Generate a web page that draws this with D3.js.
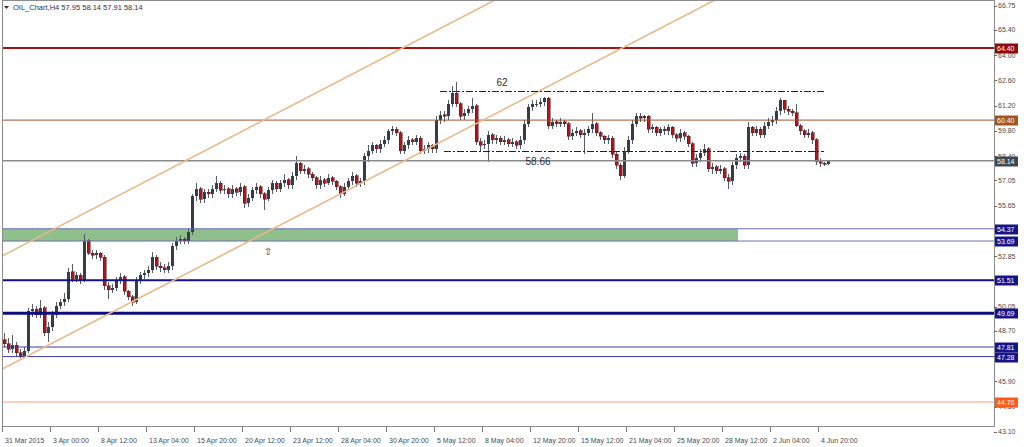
<!DOCTYPE html>
<html><head><meta charset="utf-8">
<script src="https://cdn.jsdelivr.net/npm/d3@7"></script>
<style>
body{margin:0;background:#fff;overflow:hidden}
svg{display:block}
text{font-family:"Liberation Sans",Arial,sans-serif}
</style>
</head><body>
<svg id="c" width="1024" height="447"></svg>
<script>
// ---- data ----
const opens=[48.2,48.0,47.7,47.9,47.5,47.3,47.6,49.8,49.9,49.6,50.0,48.6,48.9,49.6,50.1,50.3,50.5,52.0,51.6,51.8,
51.5,53.7,53.0,52.9,53.0,52.8,51.2,51.0,51.1,51.5,51.7,50.9,50.6,50.3,51.5,51.8,51.9,52.1,52.8,52.3,
52.2,52.1,52.3,53.4,53.7,53.8,53.7,54.2,56.2,56.6,56.0,56.4,56.3,56.6,56.9,56.5,56.6,56.3,56.6,56.4,
56.7,55.8,56.1,56.5,56.7,56.3,56.0,56.5,56.9,56.6,56.9,57.1,56.8,57.3,58.0,57.6,57.7,57.4,57.2,56.8,
57.1,56.9,57.2,57.0,56.7,56.3,56.7,57.0,57.3,56.9,57.0,58.4,58.7,59.0,58.8,59.1,59.3,59.8,59.9,59.7,
58.7,59.0,59.3,59.2,59.4,58.7,58.8,59.0,58.8,60.4,60.7,60.6,61.3,61.9,61.3,60.6,60.8,61.0,61.2,59.2,
59.0,59.1,59.6,59.3,59.4,59.2,59.3,59.1,59.2,59.0,59.3,60.2,61.1,61.3,61.3,61.4,61.6,60.1,60.3,60.2,
60.3,60.2,59.5,59.7,59.8,59.6,59.7,59.9,60.2,59.7,59.5,59.3,59.4,58.5,57.9,57.3,58.7,59.3,60.2,60.6,
60.5,60.6,59.9,60.0,59.7,59.9,59.8,60.0,59.6,59.4,59.7,59.5,59.1,58.0,58.3,58.6,58.8,57.7,57.8,57.6,
57.7,57.2,57.0,57.9,58.3,58.4,57.9,60.0,59.7,59.9,59.6,60.1,60.3,60.4,60.9,61.5,61.0,60.9,60.8,60.1,
59.8,59.6,59.7,59.3,58.1,58.0,57.95];
const highs=[48.6,48.3,48.5,48.1,47.7,47.8,50.0,50.2,50.1,50.4,50.1,49.2,49.8,50.3,50.5,50.8,52.2,52.4,52.0,51.9,
54.1,53.8,53.2,53.2,53.1,52.9,51.4,51.3,51.7,51.9,51.8,51.0,50.7,51.7,52.0,52.1,52.3,53.1,52.9,52.5,
52.4,52.5,53.6,53.9,54.0,53.9,54.4,56.3,56.9,56.7,56.6,56.6,56.8,57.3,57.0,56.8,56.7,56.8,56.7,56.9,
56.8,56.3,56.7,56.9,56.8,56.4,56.7,57.1,57.0,57.1,57.4,57.2,57.5,58.4,58.1,57.9,57.8,57.5,57.3,57.3,
57.2,57.4,57.3,57.1,56.8,56.9,57.2,57.5,57.4,57.2,58.6,59.0,59.2,59.1,59.3,59.5,59.9,60.1,60.0,59.8,
59.2,59.5,59.4,59.6,59.5,59.0,59.2,59.1,60.6,60.9,60.9,61.5,62.3,62.5,61.4,61.0,61.2,61.6,61.3,59.4,
59.3,59.8,59.7,59.6,59.5,59.5,59.4,59.4,59.3,59.5,60.4,61.3,61.5,61.5,61.6,61.7,61.7,60.5,60.4,60.5,
60.4,60.3,59.9,60.0,59.9,59.9,60.1,60.8,60.3,59.8,59.6,59.6,59.5,58.7,58.0,58.9,59.5,60.4,60.8,60.8,
60.7,60.7,60.2,60.1,60.0,60.1,60.2,60.1,59.7,59.9,59.8,59.6,59.2,58.5,58.8,59.1,58.9,58.0,57.9,57.9,
57.8,57.4,58.1,58.5,58.6,58.5,60.3,60.1,60.1,60.0,60.3,60.5,60.6,61.1,61.6,61.5,61.2,61.0,61.3,60.2,
59.9,59.9,59.8,59.4,58.3,58.1,58.14];
const lows=[47.8,47.5,47.5,47.3,47.2,47.2,47.5,49.5,49.4,49.4,48.4,48.1,48.7,49.4,49.9,50.1,50.3,51.4,51.4,51.3,
51.4,52.9,52.7,52.7,52.6,51.0,50.5,50.8,50.9,51.3,50.7,50.4,50.1,50.2,51.3,51.6,51.7,51.9,52.1,52.0,
51.9,51.9,52.1,53.2,53.5,53.5,53.5,54.0,55.9,55.8,55.8,56.1,56.1,56.4,56.3,56.3,56.1,56.1,56.2,56.2,
55.5,55.6,55.9,56.3,56.1,55.4,55.9,56.3,56.4,56.4,56.7,56.6,56.6,57.1,57.4,57.4,57.2,57.0,56.6,56.6,
56.7,56.8,56.8,56.5,56.1,56.2,56.5,56.8,56.7,56.7,56.8,58.1,58.5,58.6,58.6,58.9,59.1,59.6,59.5,58.5,
58.5,58.8,59.0,59.0,58.5,58.5,58.6,58.6,58.6,60.2,60.3,60.4,61.1,61.1,60.4,60.4,60.6,60.8,59.0,58.7,
58.8,58.1,59.1,59.1,59.0,59.0,58.9,58.9,58.8,58.8,59.1,60.0,60.9,61.1,61.1,61.2,59.9,59.9,60.0,60.0,
60.0,59.3,59.3,59.5,59.4,58.5,59.5,59.7,59.5,59.3,59.1,59.1,58.3,57.7,57.1,57.2,58.5,59.1,60.0,60.3,
60.3,59.7,59.7,59.5,59.5,59.6,59.6,59.4,59.2,59.2,59.3,58.9,57.8,57.8,58.1,58.4,57.5,57.4,57.4,57.4,
57.0,56.6,56.8,57.7,58.1,57.7,57.7,59.5,59.5,59.4,59.4,59.9,60.1,60.2,60.7,60.8,60.7,60.6,60.0,59.6,
59.4,59.4,59.1,57.9,57.8,57.85,57.91];
const closes=[48.0,47.7,47.9,47.5,47.3,47.6,49.8,49.9,49.6,50.0,48.6,48.9,49.6,50.1,50.3,50.5,52.0,51.6,51.8,51.5,
53.7,53.0,52.9,53.0,52.8,51.2,51.0,51.1,51.5,51.7,50.9,50.6,50.3,51.5,51.8,51.9,52.1,52.8,52.3,52.2,
52.1,52.3,53.4,53.7,53.8,53.7,54.2,56.2,56.6,56.0,56.4,56.3,56.6,56.9,56.5,56.6,56.3,56.6,56.4,56.7,
55.8,56.1,56.5,56.7,56.3,56.0,56.5,56.9,56.6,56.9,57.1,56.8,57.3,58.0,57.6,57.7,57.4,57.2,56.8,57.1,
56.9,57.2,57.0,56.7,56.3,56.7,57.0,57.3,56.9,57.0,58.4,58.7,59.0,58.8,59.1,59.3,59.8,59.9,59.7,58.7,
59.0,59.3,59.2,59.4,58.7,58.8,59.0,58.8,60.4,60.7,60.6,61.3,61.9,61.3,60.6,60.8,61.0,61.2,59.2,59.0,
59.1,59.6,59.3,59.4,59.2,59.3,59.1,59.2,59.0,59.3,60.2,61.1,61.3,61.3,61.4,61.6,60.1,60.3,60.2,60.3,
60.2,59.5,59.7,59.8,59.6,59.7,59.9,60.2,59.7,59.5,59.3,59.4,58.5,57.9,57.3,58.7,59.3,60.2,60.6,60.5,
60.6,59.9,60.0,59.7,59.9,59.8,60.0,59.6,59.4,59.7,59.5,59.1,58.0,58.3,58.6,58.8,57.7,57.8,57.6,57.7,
57.2,57.0,57.9,58.3,58.4,57.9,60.0,59.7,59.9,59.6,60.1,60.3,60.4,60.9,61.5,61.0,60.9,60.8,60.1,59.8,
59.6,59.7,59.3,58.1,58.0,57.95,58.14];

const timeLabels=["31 Mar 2015","3 Apr 00:00","8 Apr 12:00","13 Apr 04:00","15 Apr 20:00","20 Apr 12:00",
"23 Apr 12:00","28 Apr 04:00","30 Apr 20:00","5 May 12:00","8 May 04:00","12 May 20:00","15 May 12:00",
"21 May 04:00","25 May 20:00","28 May 12:00","2 Jun 04:00","4 Jun 20:00"];
const timeLabelBars=[0,12,24,36,48,60,72,84,96,108,120,132,144,156,168,180,192,204];
const priceTicks=[66.75,65.40,64.00,62.60,61.20,59.80,58.40,57.05,55.65,54.25,52.85,51.45,50.05,48.70,47.30,45.90,44.50,43.10];
const levelValues=[64.40,60.40,58.14,54.37,53.69,51.51,49.69,47.81,47.28,44.76];
const zoneRange=[53.69,54.37];
const zoneEndBar=183.5;
const channelUpper=[[20,55.22],[100,64.44]];
const channelLower=[[20,48.94],[100,58.13]];
const resistance={value:62.00,from:109,to:205,label:"62",labelBar:124.5};
const support={value:58.66,from:110,to:205,label:"58.66",labelBar:133.5};
const arrowMark={bar:66,price:53.08};
const header="OIL_Chart,H4  57.95 58.14 57.91 58.14";

// ---- layout ----
const W=1024,H=447;
const plot={l:2,r:994,t:0.5,b:426};
const svg=d3.select("#c");
const x=d3.scaleLinear().domain([0,206]).range([4,828]);
const y=d3.scaleLinear().domain([64.40,44.76]).range([48,402]);

svg.append("rect").attr("width",W).attr("height",H).attr("fill","#fff");
svg.append("defs").append("clipPath").attr("id","pc").append("rect")
  .attr("x",plot.l).attr("y",plot.t).attr("width",plot.r-plot.l).attr("height",plot.b-plot.t);
const g=svg.append("g").attr("clip-path","url(#pc)");

// zone
g.append("rect").attr("x",plot.l).attr("y",y(zoneRange[1]))
  .attr("width",x(zoneEndBar)-plot.l).attr("height",y(zoneRange[0])-y(zoneRange[1]))
  .attr("fill","#8fbf8a");

// candles
const bars=closes.map((c,i)=>({i,o:opens[i],h:highs[i],l:lows[i],c}));
const cg=g.append("g").attr("shape-rendering","crispEdges");
cg.selectAll("line.w").data(bars).join("line").attr("class","w")
  .attr("x1",d=>Math.round(x(d.i))+0.5).attr("x2",d=>Math.round(x(d.i))+0.5)
  .attr("y1",d=>y(d.h)).attr("y2",d=>y(d.l)).attr("stroke","#555c63").attr("stroke-width",1);
cg.selectAll("rect.b").data(bars).join("rect").attr("class","b")
  .attr("x",d=>Math.round(x(d.i))-1).attr("width",3)
  .attr("y",d=>y(Math.max(d.o,d.c))).attr("height",d=>Math.max(1,Math.abs(y(d.o)-y(d.c))))
  .attr("fill",d=>d.c>=d.o?"#343d48":"#b3121a")
  .attr("stroke",d=>d.c>=d.o?"none":"#4a1a1a").attr("stroke-width",d=>d.c>=d.o?0:0.5);

// horizontal levels
const levelStyle=[
 {c:"#a31515",w:2},{c:"#a0522d",w:1},{c:"#8a8a8a",w:1.5},{c:"#6d6db8",w:1},{c:"#6d6db8",w:1},
 {c:"#12128a",w:2},{c:"#0e0e80",w:3},{c:"#3a3aa8",w:1},{c:"#3a3aa8",w:1},{c:"#f7a27a",w:1}];
const boxStyle=["#8e0c0c","#a0561f","#3c4853","#15158a","#15158a","#15158a","#15158a","#15158a","#15158a","#ff5a1a"];
g.selectAll("line.lv").data(levelValues).join("line").attr("class","lv")
  .attr("x1",plot.l).attr("x2",plot.r).attr("y1",d=>y(d)).attr("y2",d=>y(d))
  .attr("stroke",(d,i)=>levelStyle[i].c).attr("stroke-width",(d,i)=>levelStyle[i].w);

// channel
function extend(pts){
  const [a,b]=pts; const s=(b[1]-a[1])/(b[0]-a[0]);
  const i0=-5,i1=260;
  return [[i0,a[1]+s*(i0-a[0])],[i1,a[1]+s*(i1-a[0])]];
}
[channelUpper,channelLower].forEach(pts=>{
  const e=extend(pts);
  g.append("line").attr("x1",x(e[0][0])).attr("y1",y(e[0][1])).attr("x2",x(e[1][0])).attr("y2",y(e[1][1]))
   .attr("stroke","#e8b888").attr("stroke-width",1.6);
});

// dash-dot lines and texts
[resistance,support].forEach(r=>{
  g.append("line").attr("x1",x(r.from)).attr("x2",x(r.to)).attr("y1",Math.round(y(r.value))+0.5).attr("y2",Math.round(y(r.value))+0.5)
   .attr("stroke","#222").attr("stroke-width",1).attr("stroke-dasharray","7,2,2,2");
});
g.append("text").attr("x",x(resistance.labelBar)).attr("y",y(resistance.value)-5).attr("text-anchor","middle")
 .attr("font-size",10).attr("fill","#2a2f35").text(resistance.label);
g.append("text").attr("x",x(support.labelBar)).attr("y",y(support.value)+14).attr("text-anchor","middle")
 .attr("font-size",10).attr("fill","#2a2f35").text(support.label);

// arrow mark
g.append("text").attr("x",x(arrowMark.bar)).attr("y",y(arrowMark.price)).attr("text-anchor","middle")
 .attr("dominant-baseline","middle").attr("font-family","DejaVu Sans").attr("font-size",10).attr("fill","#2a3a55").text("⇧");

// frame
svg.append("rect").attr("x",plot.l+0.5).attr("y",plot.t).attr("width",plot.r-plot.l-0.5).attr("height",plot.b-plot.t)
 .attr("fill","none").attr("stroke","#8c8c8c").attr("stroke-width",1).attr("shape-rendering","crispEdges");

// price axis
const ax=svg.append("g");
ax.selectAll("line").data(priceTicks).join("line")
 .attr("x1",plot.r).attr("x2",plot.r+3).attr("y1",d=>Math.round(y(d))+0.5).attr("y2",d=>Math.round(y(d))+0.5)
 .attr("stroke","#666").attr("shape-rendering","crispEdges");
ax.selectAll("text").data(priceTicks).join("text")
 .attr("x",plot.r+4).attr("y",d=>y(d)+2.5).attr("font-size",7).attr("fill","#4a4a4a")
 .text(d=>d3.format(".2f")(d));

// level boxes
const lb=svg.append("g");
lb.selectAll("rect").data(levelValues).join("rect")
 .attr("x",plot.r+1).attr("y",d=>Math.round(y(d))-4.5).attr("width",23).attr("height",10)
 .attr("fill",(d,i)=>boxStyle[i]);
lb.selectAll("text").data(levelValues).join("text")
 .attr("x",plot.r+3).attr("y",d=>Math.round(y(d))+3).attr("font-size",7).attr("fill","#fff")
 .text(d=>d3.format(".2f")(d));

// time axis
const tx=svg.append("g");
tx.selectAll("line").data(timeLabelBars).join("line")
 .attr("x1",d=>Math.round(x(d))-1.5).attr("x2",d=>Math.round(x(d))-1.5).attr("y1",plot.b).attr("y2",plot.b+6)
 .attr("stroke","#777").attr("shape-rendering","crispEdges");
tx.selectAll("text").data(timeLabelBars).join("text")
 .attr("x",d=>Math.round(x(d))+1).attr("y",443).attr("font-size",7).attr("fill","#4a4a4a")
 .text((d,i)=>timeLabels[i]);

// header
svg.append("path").attr("d","M4,6 L9,6 L6.5,9 Z").attr("fill","#333");
svg.append("text").attr("x",13).attr("y",10).attr("font-size",7.5).attr("fill","#333").text(header);
</script>
</body></html>
